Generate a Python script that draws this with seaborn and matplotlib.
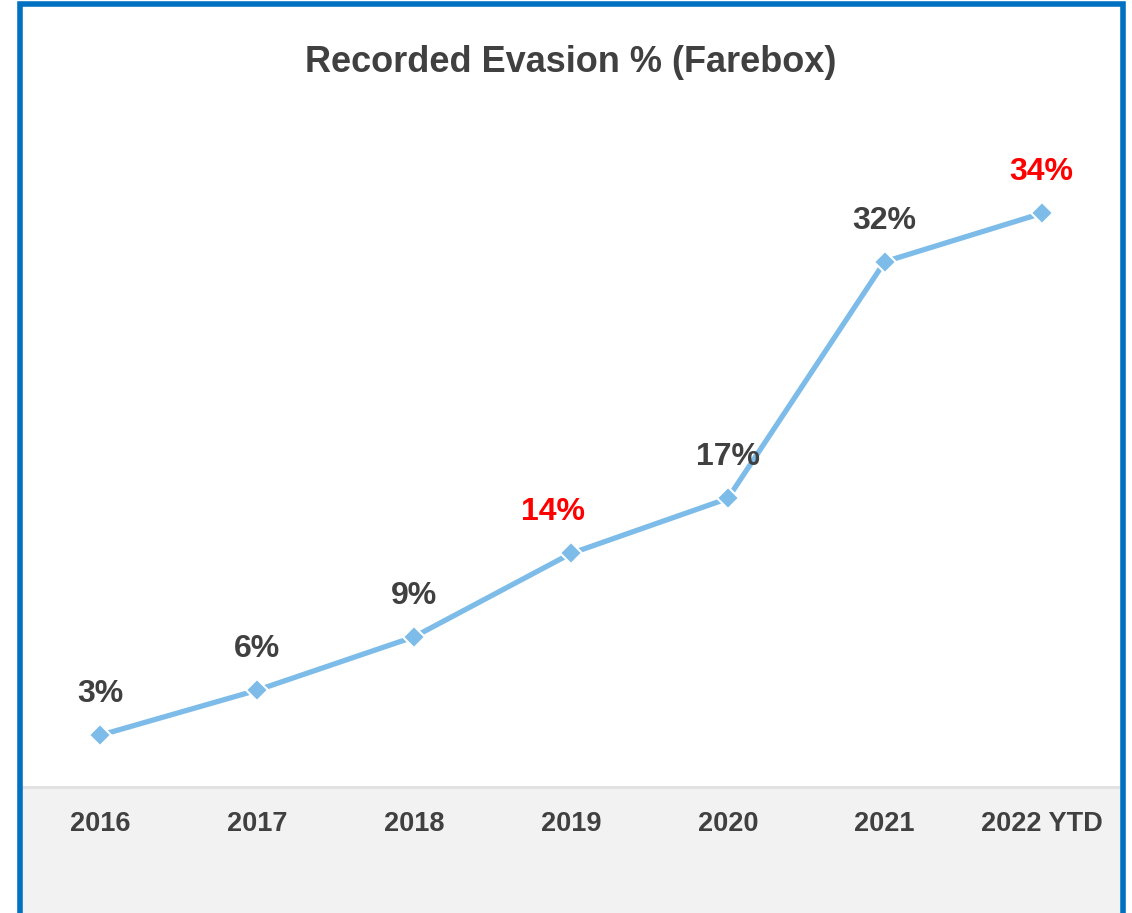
import numpy as np
import pandas as pd
import seaborn as sns
import matplotlib.pyplot as plt
from matplotlib.patches import Rectangle

# Chart data
years = ["2016", "2017", "2018", "2019", "2020", "2021", "2022 YTD"]
evasion_pct = [3.1, 5.8, 9.0, 14.0, 17.3, 31.5, 34.4]
value_labels = ["3%", "6%", "9%", "14%", "17%", "32%", "34%"]
label_colors = ["#404040", "#404040", "#404040", "#ff0000", "#404040", "#404040", "#ff0000"]
label_dx = [0, 0, 0, -18, 0, 0, 0]

W, H = 1132, 913
sns.set_theme(style="white")
plt.rcParams['font.family'] = ['Liberation Sans', 'DejaVu Sans']

fig = plt.figure(figsize=(W / 100, H / 100), dpi=100)
fig.patch.set_facecolor("white")

def fx(px):
    return px / W

def fy(py):
    return 1 - py / H

# grey band under the plot, with a thin line on top (behind the axes)
fig.patches.append(Rectangle((fx(22), 0), fx(1120 - 22), fy(786), transform=fig.transFigure,
                             facecolor="#f2f2f2", edgecolor="none", zorder=-2))
fig.patches.append(Rectangle((fx(22), fy(789)), fx(1120 - 22), 3 / H, transform=fig.transFigure,
                             facecolor="#e2e2e2", edgecolor="none", zorder=-1))

ax = fig.add_axes([fx(22), fy(786), fx(1120 - 22), (786 - 150) / H])
ax.set_facecolor("white")

df = pd.DataFrame({"x": np.arange(len(years)), "pct": evasion_pct})
sns.lineplot(data=df, x="x", y="pct", ax=ax, color="#7dbce9", linewidth=3.8,
             marker="D", markersize=11, markeredgecolor="white", markeredgewidth=1.5)

for i, (v, lab, c, dx) in enumerate(zip(evasion_pct, value_labels, label_colors, label_dx)):
    ax.annotate(lab, (i, v), xytext=(dx * 0.72, 29.5), textcoords="offset points",
                ha="center", va="center", fontsize=23, fontweight="bold", color=c)

ax.set_xlim(-0.5, len(years) - 0.5)
ax.set_ylim(0.05, (786 - 150) / 16.67 + 0.05)
ax.set_xticks(np.arange(len(years)))
ax.set_xticklabels(years, fontsize=19.5, fontweight="bold", color="#404040")
ax.tick_params(axis="x", length=0, pad=18)
ax.set_yticks([])
ax.set_xlabel("")
ax.set_ylabel("")
for s in ax.spines.values():
    s.set_visible(False)

fig.text(fx(571), fy(63), "Recorded Evasion % (Farebox)", ha="center", va="center",
         fontsize=26, fontweight="bold", color="#404040")

# blue frame (open at the bottom)
fig.add_artist(plt.Line2D([fx(19.5), fx(19.5), fx(1122.5), fx(1122.5)],
                          [0, fy(4.5), fy(4.5), 0], transform=fig.transFigure,
                          color="#0070c0", linewidth=4, solid_joinstyle="miter", zorder=10))

fig.savefig("out.png", dpi=100)
